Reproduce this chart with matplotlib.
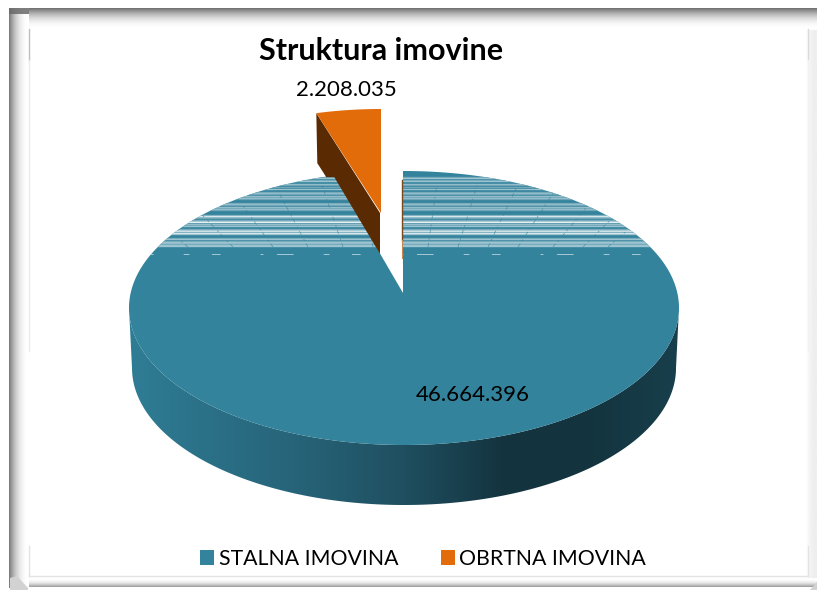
import numpy as np
import matplotlib
matplotlib.use("Agg")
import matplotlib.pyplot as plt
from matplotlib.patches import Polygon, Patch
from matplotlib.colors import LinearSegmentedColormap

plt.rcParams['font.family'] = ['Lato', 'DejaVu Sans']

# chart data
categories = ["STALNA IMOVINA", "OBRTNA IMOVINA"]
values = [46664396, 2208035]
value_labels = ["46.664.396", "2.208.035"]
title = "Struktura imovine"

BLUE = "#33839C"
ORANGE = "#E26B0A"
BROWN = "#5A2B03"

# scanline texture on the back of the pie, one char per pixel row from y=173
stripe_rows = ("dddmldmlddlmdmdlddmlmdlmlmdddmlmdlmlmdddd"
               "mwlmdmlwdlmlddmlwmwlddd" "mldmllmllddddddddd")
stripe_colors = {"d": BLUE, "m": "#6FA5B7", "l": "#9CC3D0", "w": "#E6F0F3"}
# where the faint fan lines cross y=247, relative to the apex
fan_offsets = [-215, -170, -130, -95, -60, -30, 25, 55, 85, 115, 150, 180, 205]

fig = plt.figure(figsize=(8.17, 5.90), dpi=100)
ax = fig.add_axes([0, 0, 1, 1])


def fade(x0, x1, y0, y1, horizontal, start, end, n=30):
    # shadow falls off quickly from the dark edge
    s = np.linspace(0, 1, n)
    g = end + (start - end) * (1 - s) ** 2.2
    arr = g.reshape(1, -1) if horizontal else g.reshape(-1, 1)
    ax.imshow(arr, extent=(x0, x1, y1, y0), cmap="gray", vmin=0, vmax=1,
              aspect="auto", interpolation="bilinear", zorder=1)


# outer shadow frame
fade(806, 817, 10, 585, True, 1.0, 0.93)
fade(9, 29, 8, 588, True, 0.48, 1.0)
fade(29, 817, 8, 30, False, 0.44, 1.0)
fade(9, 29, 8, 14, True, 0.42, 0.5)
fade(29, 817, 587, 578, False, 0.6, 1.0)
ax.add_patch(Polygon([(10, 590), (10, 578), (17, 576), (28, 588), (28, 590)], fc="#D2D2D2", ec="none", zorder=2))
ax.add_patch(Polygon([(817, 582), (810, 590), (817, 590)], fc="#D2D2D2", ec="none", zorder=2))

# thin chart-area border pieces
line_kw = dict(lw=1, zorder=2)
ax.plot([29.5, 29.5], [29, 60], color="#BDBDBD", **line_kw)
ax.plot([29.5, 29.5], [60, 351], color="#EBEBEB", **line_kw)
ax.plot([29.5, 29.5], [546, 575.5], color="#E3E3E3", **line_kw)
ax.plot([29.5, 808.5], [575.5, 575.5], color="#E3E3E3", **line_kw)
ax.plot([808.5, 808.5], [29, 60], color="#DADADA", **line_kw)
ax.plot([808.5, 808.5], [60, 351], color="#F2F2F2", **line_kw)
ax.plot([808.5, 808.5], [546, 575.5], color="#E3E3E3", **line_kw)

# pie geometry comes from the values
share = values[1] / sum(values)
sweep = 2 * np.pi * share
cx, cy, rx, ry = 404, 308, 275, 137
apex = (403, 293)
depth = 60

# side wall with horizontal shading
t = np.linspace(0, np.pi, 200)
rim_x = cx - rx * np.cos(t)
rim_y = cy + ry * np.sin(t)
low_x = cx - (rx - 3) * np.cos(t)
low_y = cy + depth + ry * np.sin(t)
wall = Polygon(np.r_[np.c_[rim_x, rim_y], np.c_[low_x, low_y][::-1]], fc="none", ec="none")
ax.add_patch(wall)
side_cmap = LinearSegmentedColormap.from_list("side", [
    (0.0, "#2F7D95"), (0.12, "#2B7289"), (0.3, "#276479"), (0.5, "#1F4F60"),
    (0.68, "#14343F"), (0.85, "#133540"), (1.0, "#183F4C")])
im = ax.imshow(np.linspace(0, 1, 300).reshape(1, -1), extent=(129, 679, 510, 300), cmap=side_cmap,
               aspect="auto", zorder=3)
im.set_clip_path(wall)

# top face of the big slice, clockwise from 12 o'clock round to the gap
# (0.9: the gap looks a bit narrower on the foreshortened back of the pie)
a = np.linspace(0, 2 * np.pi - sweep * 0.9, 400)
face_x = cx + rx * np.sin(a)
face_y = cy - ry * np.cos(a)
face_x[0] = apex[0]
face_pts = np.r_[[apex], np.c_[face_x, face_y]]
face = Polygon(face_pts, fc=BLUE, ec="none", zorder=4)
ax.add_patch(face)

# scanline artefacts, clipped to the face
for i, ch in enumerate(stripe_rows):
    if ch == "d":
        continue
    ln = ax.hlines(173 + i + 0.5, 120, 690, color=stripe_colors[ch], lw=1.0, zorder=5)
    ln.set_clip_path(face)
ln = ax.hlines(253.5, 120, 690, color="#A6C9D4", lw=0.7, linestyles=(0, (3, 14, 17, 31, 6, 23, 9, 41)), zorder=5)
ln.set_clip_path(face)
for off in fan_offsets:
    ln, = ax.plot([403 + off, 403 + off * 1.35], [247, 185], color=BLUE, lw=0.5, alpha=0.75,
                  ls=(0, (6, 4, 3, 7)), zorder=5)
    ln.set_clip_path(face)

# sliver of the cut face along the right side of the gap
ax.plot([402.5, 402.5], [180, 240], color="#7A4A1E", lw=1.0, zorder=6)
ax.plot([402.5, 402.5], [240, 258], color="#C98A4E", lw=0.8, zorder=6)

# exploded orange slice
ox, oy, orx, ory = 381, 213, 231, 104
b = np.linspace(0, sweep, 40)
arc_x = ox - orx * np.sin(b)
arc_y = oy - ory * np.cos(b)
tip = (arc_x[-1], arc_y[-1])
side_pts = [tip, (tip[0] + 1, tip[1] + 50), (tip[0] + 10, tip[1] + 64), (tip[0] + 18, tip[1] + 64),
            (ox - 1, oy + 41), (ox - 1, oy)]
ax.add_patch(Polygon(side_pts, fc=BROWN, ec="none", zorder=7))
ax.add_patch(Polygon(np.r_[[(ox, oy)], np.c_[arc_x, arc_y]], fc=ORANGE, ec="none", zorder=8))

ax.text(381, 51, title, ha="center", va="center", fontsize=22, fontweight="bold", color="black", zorder=10)
ax.text(346.5, 89.5, value_labels[1], ha="center", va="center", fontsize=16, color="black", zorder=10)
ax.text(472.5, 395, value_labels[0], ha="center", va="center", fontsize=16, color="black", zorder=10)

handles = [Patch(fc=BLUE, ec="none"), Patch(fc=ORANGE, ec="none")]
ax.legend(handles, categories, ncol=2, frameon=False, fontsize=15.3, loc="center",
          bbox_to_anchor=(423 / 817, 1 - 559 / 590), handlelength=0.66, handleheight=0.7,
          handletextpad=0.2, columnspacing=2.0, borderpad=0, labelcolor="black")

ax.set_xlim(0, 817)
ax.set_ylim(590, 0)
ax.axis("off")

fig.savefig("out.png", dpi=100, facecolor="white")
